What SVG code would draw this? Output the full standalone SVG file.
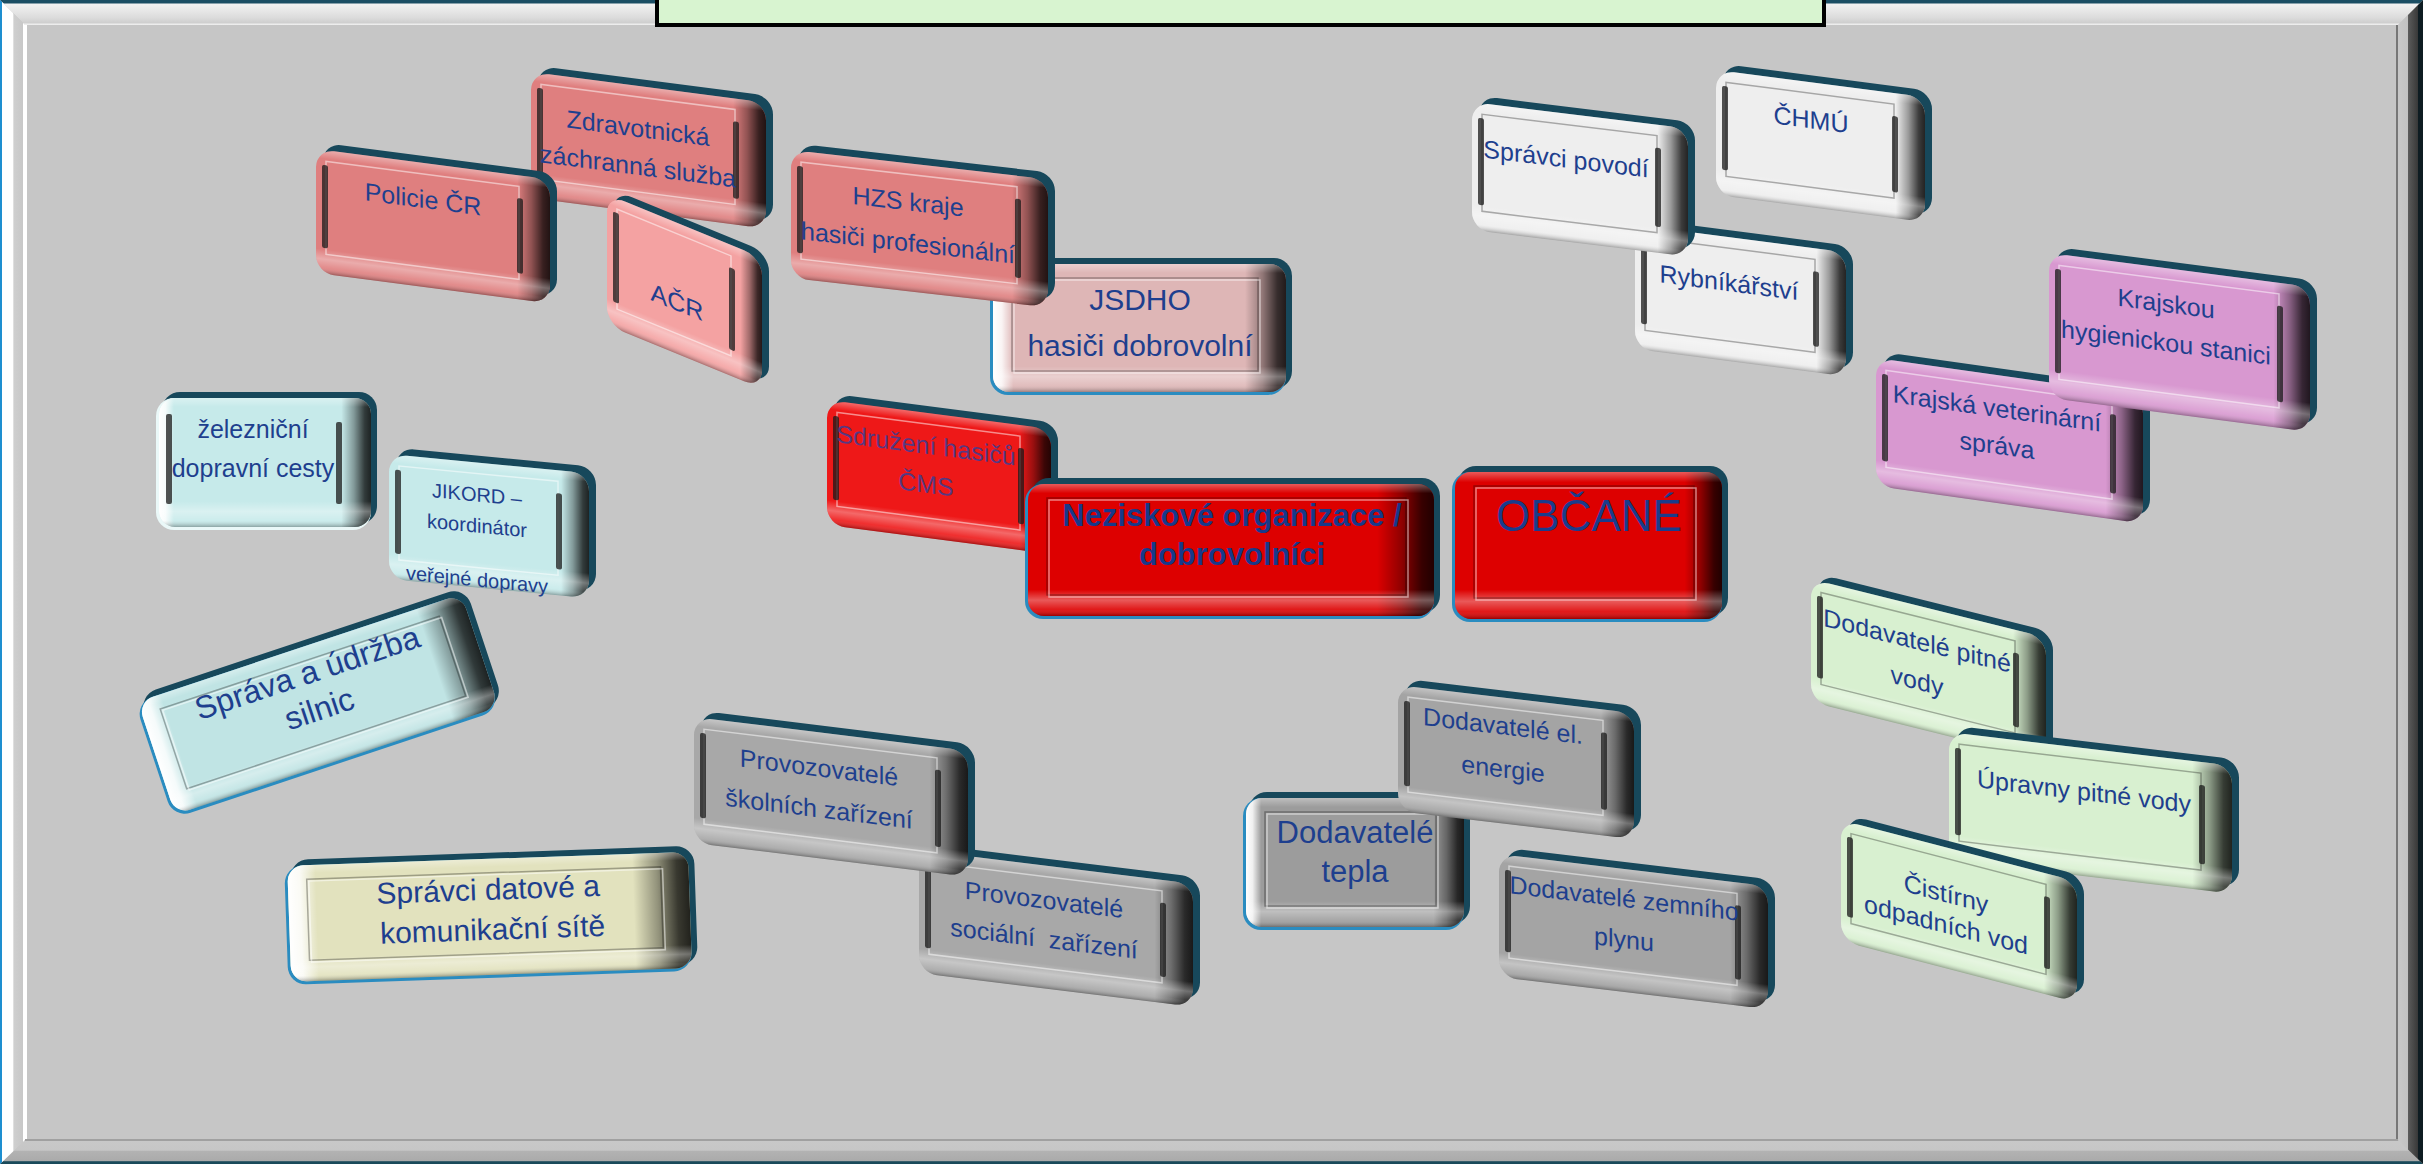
<svg xmlns="http://www.w3.org/2000/svg" width="2423" height="1164" viewBox="0 0 2423 1164">
<defs>
<linearGradient id="gSide" x1="0" y1="0" x2="1" y2="0">
<stop offset="0" stop-color="#000" stop-opacity="0"/>
<stop offset="0.86" stop-color="#000" stop-opacity="0"/>
<stop offset="0.92" stop-color="#000" stop-opacity="0.35"/>
<stop offset="0.97" stop-color="#000" stop-opacity="0.75"/>
<stop offset="1" stop-color="#000" stop-opacity="0.85"/>
</linearGradient>
<linearGradient id="gShade" x1="0" y1="0" x2="0" y2="1">
<stop offset="0" stop-color="#fff" stop-opacity="0.35"/>
<stop offset="0.07" stop-color="#fff" stop-opacity="0"/>
<stop offset="0.8" stop-color="#fff" stop-opacity="0"/>
<stop offset="0.88" stop-color="#fff" stop-opacity="0.35"/>
<stop offset="0.95" stop-color="#fff" stop-opacity="0.1"/>
<stop offset="1" stop-color="#000" stop-opacity="0.3"/>
</linearGradient>
<linearGradient id="gHL" x1="0" y1="0" x2="1" y2="0">
<stop offset="0" stop-color="#fff" stop-opacity="1"/>
<stop offset="0.03" stop-color="#fff" stop-opacity="0.85"/>
<stop offset="0.07" stop-color="#fff" stop-opacity="0"/>
</linearGradient>
<linearGradient id="gTop" gradientUnits="userSpaceOnUse" x1="0" y1="0" x2="0" y2="25">
<stop offset="0" stop-color="#1b4e64"/>
<stop offset="0.12" stop-color="#1b4e64"/>
<stop offset="0.16" stop-color="#f2f2f2"/>
<stop offset="0.7" stop-color="#dcdcdc"/>
<stop offset="0.9" stop-color="#cfcfcf"/>
<stop offset="1" stop-color="#f4f4f4"/>
</linearGradient>
<linearGradient id="gLeft" gradientUnits="userSpaceOnUse" x1="0" y1="0" x2="25" y2="0">
<stop offset="0" stop-color="#1e8fd0"/>
<stop offset="0.08" stop-color="#1e8fd0"/>
<stop offset="0.1" stop-color="#fff"/>
<stop offset="0.5" stop-color="#fff"/>
<stop offset="0.56" stop-color="#cfcfcf"/>
<stop offset="0.9" stop-color="#c8c8c8"/>
<stop offset="0.93" stop-color="#fff"/>
<stop offset="1" stop-color="#fff"/>
</linearGradient>
<linearGradient id="gRight" gradientUnits="userSpaceOnUse" x1="2398" y1="0" x2="2423" y2="0">
<stop offset="0" stop-color="#c8c8c8"/>
<stop offset="0.38" stop-color="#c2c2c2"/>
<stop offset="0.42" stop-color="#5a5a5a"/>
<stop offset="0.78" stop-color="#3a3a3a"/>
<stop offset="0.8" stop-color="#0e1c22"/>
<stop offset="1" stop-color="#0e1c22"/>
</linearGradient>
<linearGradient id="gBottom" gradientUnits="userSpaceOnUse" x1="0" y1="1140" x2="0" y2="1164">
<stop offset="0" stop-color="#9a9a9a"/>
<stop offset="0.06" stop-color="#c8c8c8"/>
<stop offset="0.42" stop-color="#c6c6c6"/>
<stop offset="0.48" stop-color="#b2b2b2"/>
<stop offset="0.88" stop-color="#aaaaaa"/>
<stop offset="0.9" stop-color="#1a4a5a"/>
<stop offset="1" stop-color="#1a4a5a"/>
</linearGradient>
</defs>
<style>
.rim{fill:#17485b}
.side{fill:url(#gSide)}
.shade{fill:url(#gShade)}
.hl{fill:url(#gHL)}
.blue{fill:#2a8cc0}
.inner{fill:none;stroke:#fff;stroke-opacity:.5;stroke-width:1.5}
.inner2{fill:none;stroke:#000;stroke-opacity:.3;stroke-width:1.5}
.bar{fill:#1a1a1a;fill-opacity:.75}
.lbl{font-family:"Liberation Sans",Arial,sans-serif;font-size:25px;fill:#1e3f8e;text-anchor:middle}
.f20{font-size:20px}
.f30{font-size:30px}
.f31{font-size:31px}
.f32{font-size:32px}
.f44{font-size:44px}
.b{font-weight:bold}
</style>

<g id="frame">
<rect x="0" y="0" width="2423" height="1164" fill="#c6c6c6"/>
<polygon points="0,0 2423,0 2398,25 25,25" fill="url(#gTop)"/>
<polygon points="0,1164 2423,1164 2398,1140 25,1140" fill="url(#gBottom)"/>
<polygon points="0,0 25,25 25,1140 0,1164" fill="url(#gLeft)"/>
<polygon points="2423,0 2423,1164 2398,1140 2398,25" fill="url(#gRight)"/>
<rect x="25" y="25" width="2373" height="1115" fill="#c6c6c6"/>
<line x1="26" y1="25" x2="26" y2="1140" stroke="#fff" stroke-width="2"/>
<line x1="2397" y1="25" x2="2397" y2="1140" stroke="#777" stroke-width="2"/>
<line x1="25" y1="1140" x2="2398" y2="1140" stroke="#a0a0a0" stroke-width="2"/>
</g>

<g id="title-box">
<rect x="657" y="-6" width="1167" height="31" fill="#d8f4d0" stroke="#000" stroke-width="4"/>
</g>

<g id="connectors"/>

<g id="n-zdrav" transform="translate(531 65) skewY(7.4)">
<rect class="rim" x="7" y="0" width="235" height="126" rx="18"/>
<rect x="0" y="7" width="235" height="126" rx="18" fill="#df7f7f"/>
<rect class="side" x="0" y="7" width="235" height="126" rx="18"/>
<rect class="shade" x="0" y="7" width="235" height="126" rx="18"/>
<rect class="inner" x="10" y="18" width="194" height="95"/>
<rect class="bar" x="6" y="22" width="6" height="85" rx="2"/>
<rect class="bar" x="202" y="30" width="6" height="77" rx="2"/>
<text class="lbl" x="107" y="58">Zdravotnická</text>
<text class="lbl" x="107" y="96">záchranná služba</text>
</g>

<g id="n-policie" transform="translate(316 142) skewY(7.4)">
<rect class="rim" x="7" y="0" width="234" height="124" rx="18"/>
<rect x="0" y="7" width="234" height="124" rx="18" fill="#df7f7f"/>
<rect class="side" x="0" y="7" width="234" height="124" rx="18"/>
<rect class="shade" x="0" y="7" width="234" height="124" rx="18"/>
<rect class="inner" x="10" y="18" width="193" height="93"/>
<rect class="bar" x="6" y="22" width="6" height="83" rx="2"/>
<rect class="bar" x="201" y="30" width="6" height="75" rx="2"/>
<text class="lbl" x="107" y="52">Policie ČR</text>
</g>

<g id="n-acr" transform="translate(607 187) skewY(22.3)">
<rect class="rim" x="7" y="0" width="155" height="131" rx="18"/>
<rect x="0" y="7" width="155" height="131" rx="18" fill="#f4a2a2"/>
<rect class="side" x="0" y="7" width="155" height="131" rx="18"/>
<rect class="shade" x="0" y="7" width="155" height="131" rx="18"/>
<rect class="inner" x="10" y="18" width="114" height="100"/>
<rect class="bar" x="6" y="22" width="6" height="90" rx="2"/>
<rect class="bar" x="122" y="30" width="6" height="82" rx="2"/>
<text class="lbl" x="70" y="95">AČR</text>
</g>

<g id="n-jsdho" transform="translate(990 258)">
<rect class="rim" x="6" y="0" width="296" height="131" rx="18"/>
<rect class="blue" x="0" y="6" width="296" height="131" rx="18"/>
<rect x="3" y="6" width="293" height="128" rx="16" fill="#deb6b6"/>
<rect class="hl" x="3" y="6" width="293" height="128" rx="16"/>
<rect class="side" x="3" y="6" width="293" height="128" rx="16"/>
<rect class="shade" x="3" y="6" width="293" height="128" rx="16"/>
<rect class="inner2" x="22" y="20" width="246" height="93"/>
<rect class="inner" x="24" y="22" width="246" height="93"/>
<text class="lbl f30" x="150" y="52">JSDHO</text>
<text class="lbl f30" x="150" y="98">hasiči dobrovolní</text>
</g>

<g id="n-hzs" transform="translate(791 143) skewY(6.5)">
<rect class="rim" x="7" y="0" width="257" height="128" rx="18"/>
<rect x="0" y="7" width="257" height="128" rx="18" fill="#df7f7f"/>
<rect class="side" x="0" y="7" width="257" height="128" rx="18"/>
<rect class="shade" x="0" y="7" width="257" height="128" rx="18"/>
<rect class="inner" x="10" y="18" width="216" height="97"/>
<rect class="bar" x="6" y="22" width="6" height="87" rx="2"/>
<rect class="bar" x="224" y="30" width="6" height="79" rx="2"/>
<text class="lbl" x="117" y="54">HZS kraje</text>
<text class="lbl" x="117" y="95">hasiči profesionální</text>
</g>

<g id="n-sdruzeni" transform="translate(827 393) skewY(7.4)">
<rect class="rim" x="7" y="0" width="224" height="125" rx="18"/>
<rect x="0" y="7" width="224" height="125" rx="18" fill="#ee1818"/>
<rect class="side" x="0" y="7" width="224" height="125" rx="18"/>
<rect class="shade" x="0" y="7" width="224" height="125" rx="18"/>
<rect class="inner" x="10" y="18" width="183" height="94"/>
<rect class="bar" x="6" y="22" width="6" height="84" rx="2"/>
<rect class="bar" x="191" y="30" width="6" height="76" rx="2"/>
<text class="lbl" x="99" y="48" fill-opacity="0.85" style="fill:#3a3f95">Sdružení hasičů</text>
<text class="lbl" x="99" y="87" fill-opacity="0.85" style="fill:#3a3f95">ČMS</text>
</g>

<g id="n-nezisk" transform="translate(1025 478)">
<rect class="rim" x="6" y="0" width="409" height="135" rx="18"/>
<rect class="blue" x="0" y="6" width="409" height="135" rx="18"/>
<rect x="3" y="6" width="406" height="132" rx="16" fill="#dd0000"/>
<rect class="side" x="3" y="6" width="406" height="132" rx="16"/>
<rect class="shade" x="3" y="6" width="406" height="132" rx="16"/>
<rect class="inner2" x="22" y="20" width="359" height="97"/>
<rect class="inner" x="24" y="22" width="359" height="97"/>
<text class="lbl f31 b" x="207" y="48" style="fill:#17398a">Neziskové organizace /</text>
<text class="lbl f31 b" x="207" y="87" style="fill:#17398a">dobrovolníci</text>
</g>

<g id="n-obcane" transform="translate(1452 466)">
<rect class="rim" x="6" y="0" width="270" height="150" rx="18"/>
<rect class="blue" x="0" y="6" width="270" height="150" rx="18"/>
<rect x="3" y="6" width="267" height="147" rx="16" fill="#dd0000"/>
<rect class="side" x="3" y="6" width="267" height="147" rx="16"/>
<rect class="shade" x="3" y="6" width="267" height="147" rx="16"/>
<rect class="inner2" x="22" y="20" width="220" height="112"/>
<rect class="inner" x="24" y="22" width="220" height="112"/>
<text class="lbl f44" x="137" y="65" style="fill:#1a3c8c">OBČANÉ</text>
</g>

<g id="n-rybnik" transform="translate(1635 218) skewY(7.4)">
<rect class="rim" x="7" y="0" width="211" height="124" rx="18"/>
<rect x="0" y="7" width="211" height="124" rx="18" fill="#eeeeee"/>
<rect class="side" x="0" y="7" width="211" height="124" rx="18"/>
<rect class="shade" x="0" y="7" width="211" height="124" rx="18"/>
<rect class="inner2" x="10" y="18" width="170" height="93"/>
<rect class="bar" x="6" y="22" width="6" height="83" rx="2"/>
<rect class="bar" x="178" y="30" width="6" height="75" rx="2"/>
<text class="lbl" x="94" y="61">Rybníkářství</text>
</g>

<g id="n-povodi" transform="translate(1472 95) skewY(7)">
<rect class="rim" x="7" y="0" width="216" height="128" rx="18"/>
<rect x="0" y="7" width="216" height="128" rx="18" fill="#eeeeee"/>
<rect class="side" x="0" y="7" width="216" height="128" rx="18"/>
<rect class="shade" x="0" y="7" width="216" height="128" rx="18"/>
<rect class="inner2" x="10" y="18" width="175" height="97"/>
<rect class="bar" x="6" y="22" width="6" height="87" rx="2"/>
<rect class="bar" x="183" y="30" width="6" height="79" rx="2"/>
<text class="lbl" x="94" y="61">Správci povodí</text>
</g>

<g id="n-chmu" transform="translate(1716 63) skewY(7.4)">
<rect class="rim" x="7" y="0" width="209" height="125" rx="18"/>
<rect x="0" y="7" width="209" height="125" rx="18" fill="#eeeeee"/>
<rect class="side" x="0" y="7" width="209" height="125" rx="18"/>
<rect class="shade" x="0" y="7" width="209" height="125" rx="18"/>
<rect class="inner2" x="10" y="18" width="168" height="94"/>
<rect class="bar" x="6" y="22" width="6" height="84" rx="2"/>
<rect class="bar" x="176" y="30" width="6" height="76" rx="2"/>
<text class="lbl" x="95" y="53">ČHMÚ</text>
</g>

<g id="n-kvs" transform="translate(1876 351) skewY(8)">
<rect class="rim" x="7" y="0" width="267" height="128" rx="18"/>
<rect x="0" y="7" width="267" height="128" rx="18" fill="#d898d0"/>
<rect class="side" x="0" y="7" width="267" height="128" rx="18"/>
<rect class="shade" x="0" y="7" width="267" height="128" rx="18"/>
<rect class="inner" x="10" y="18" width="226" height="97"/>
<rect class="bar" x="6" y="22" width="6" height="87" rx="2"/>
<rect class="bar" x="234" y="30" width="6" height="79" rx="2"/>
<text class="lbl" x="121" y="49">Krajská veterinární</text>
<text class="lbl" x="121" y="86">správa</text>
</g>

<g id="n-khs" transform="translate(2049 246) skewY(7.4)">
<rect class="rim" x="7" y="0" width="261" height="145" rx="18"/>
<rect x="0" y="7" width="261" height="145" rx="18" fill="#d898d0"/>
<rect class="side" x="0" y="7" width="261" height="145" rx="18"/>
<rect class="shade" x="0" y="7" width="261" height="145" rx="18"/>
<rect class="inner" x="10" y="18" width="220" height="114"/>
<rect class="bar" x="6" y="22" width="6" height="104" rx="2"/>
<rect class="bar" x="228" y="30" width="6" height="96" rx="2"/>
<text class="lbl" x="117" y="51">Krajskou</text>
<text class="lbl" x="117" y="90">hygienickou stanici</text>
</g>

<g id="n-zeleznice" transform="translate(156 392)">
<rect class="rim" x="6" y="0" width="215" height="132" rx="18"/>
<rect x="0" y="6" width="215" height="132" rx="18" fill="#eaf8f8"/>
<rect x="3" y="6" width="212" height="129" rx="16" fill="#c6eaea"/>
<rect class="hl" x="3" y="6" width="212" height="129" rx="16"/>
<rect class="side" x="3" y="6" width="212" height="129" rx="16"/>
<rect class="shade" x="3" y="6" width="212" height="129" rx="16"/>
<rect class="bar" x="10" y="22" width="6" height="90" rx="2"/>
<rect class="bar" x="180" y="30" width="6" height="82" rx="2"/>
<text class="lbl" x="97" y="46">železniční</text>
<text class="lbl" x="97" y="85">dopravní cesty</text>
</g>

<g id="n-jikord" transform="translate(389 447) skewY(5.5)">
<rect class="rim" x="7" y="0" width="200" height="125" rx="18"/>
<rect x="0" y="7" width="200" height="125" rx="18" fill="#c6eaea"/>
<rect class="side" x="0" y="7" width="200" height="125" rx="18"/>
<rect class="shade" x="0" y="7" width="200" height="125" rx="18"/>
<rect class="inner" x="10" y="18" width="159" height="94"/>
<rect class="bar" x="6" y="22" width="6" height="84" rx="2"/>
<rect class="bar" x="167" y="30" width="6" height="76" rx="2"/>
<text class="lbl f20" x="88" y="46">JIKORD –</text>
<text class="lbl f20" x="88" y="77">koordinátor</text>
<text class="lbl f20" x="88" y="131">veřejné dopravy</text>
</g>

<g id="n-silnice" transform="translate(133 697) rotate(-18.4)">
<rect class="rim" x="6" y="0" width="344" height="122" rx="18"/>
<rect class="blue" x="0" y="6" width="344" height="122" rx="18"/>
<rect x="3" y="6" width="341" height="119" rx="16" fill="#c0e4e4"/>
<rect class="hl" x="3" y="6" width="341" height="119" rx="16"/>
<rect class="side" x="3" y="6" width="341" height="119" rx="16"/>
<rect class="shade" x="3" y="6" width="341" height="119" rx="16"/>
<rect class="inner2" x="22" y="20" width="294" height="84"/>
<rect class="inner" x="24" y="22" width="294" height="84"/>
<text class="lbl f32" x="173" y="43">Správa a údržba</text>
<text class="lbl f32" x="173" y="81">silnic</text>
</g>

<g id="n-datove" transform="translate(284 860) rotate(-2)">
<rect class="rim" x="6" y="0" width="404" height="119" rx="18"/>
<rect class="blue" x="0" y="6" width="404" height="119" rx="18"/>
<rect x="3" y="6" width="401" height="116" rx="16" fill="#e2e2be"/>
<rect class="hl" x="3" y="6" width="401" height="116" rx="16"/>
<rect class="side" x="3" y="6" width="401" height="116" rx="16"/>
<rect class="shade" x="3" y="6" width="401" height="116" rx="16"/>
<rect class="inner2" x="22" y="20" width="354" height="81"/>
<rect class="inner" x="24" y="22" width="354" height="81"/>
<text class="lbl f30" x="203" y="47">Správci datové a</text>
<text class="lbl f30" x="206" y="87">komunikační sítě</text>
</g>

<g id="n-socialni" transform="translate(919 843) skewY(7)">
<rect class="rim" x="7" y="0" width="274" height="123" rx="18"/>
<rect x="0" y="7" width="274" height="123" rx="18" fill="#a8a8a8"/>
<rect class="side" x="0" y="7" width="274" height="123" rx="18"/>
<rect class="shade" x="0" y="7" width="274" height="123" rx="18"/>
<rect class="inner" x="10" y="18" width="233" height="92"/>
<rect class="bar" x="6" y="22" width="6" height="82" rx="2"/>
<rect class="bar" x="241" y="30" width="6" height="74" rx="2"/>
<text class="lbl" x="125" y="50">Provozovatelé</text>
<text class="lbl" x="125" y="89" xml:space="preserve">sociální  zařízení</text>
</g>

<g id="n-skolni" transform="translate(694 710) skewY(7)">
<rect class="rim" x="7" y="0" width="274" height="126" rx="18"/>
<rect x="0" y="7" width="274" height="126" rx="18" fill="#a8a8a8"/>
<rect class="side" x="0" y="7" width="274" height="126" rx="18"/>
<rect class="shade" x="0" y="7" width="274" height="126" rx="18"/>
<rect class="inner" x="10" y="18" width="233" height="95"/>
<rect class="bar" x="6" y="22" width="6" height="85" rx="2"/>
<rect class="bar" x="241" y="30" width="6" height="77" rx="2"/>
<text class="lbl" x="125" y="51">Provozovatelé</text>
<text class="lbl" x="125" y="92">školních zařízení</text>
</g>

<g id="n-teplo" transform="translate(1243 792)">
<rect class="rim" x="6" y="0" width="221" height="132" rx="18"/>
<rect class="blue" x="0" y="6" width="221" height="132" rx="18"/>
<rect x="3" y="6" width="218" height="129" rx="16" fill="#9c9c9c"/>
<rect class="hl" x="3" y="6" width="218" height="129" rx="16"/>
<rect class="side" x="3" y="6" width="218" height="129" rx="16"/>
<rect class="shade" x="3" y="6" width="218" height="129" rx="16"/>
<rect class="inner2" x="22" y="20" width="171" height="94"/>
<rect class="inner" x="24" y="22" width="171" height="94"/>
<text class="lbl f31" x="112" y="51">Dodavatelé</text>
<text class="lbl f31" x="112" y="90">tepla</text>
</g>

<g id="n-elektro" transform="translate(1398 678) skewY(6.8)">
<rect class="rim" x="7" y="0" width="236" height="126" rx="18"/>
<rect x="0" y="7" width="236" height="126" rx="18" fill="#a4a4a4"/>
<rect class="side" x="0" y="7" width="236" height="126" rx="18"/>
<rect class="shade" x="0" y="7" width="236" height="126" rx="18"/>
<rect class="inner" x="10" y="18" width="195" height="95"/>
<rect class="bar" x="6" y="22" width="6" height="85" rx="2"/>
<rect class="bar" x="203" y="30" width="6" height="77" rx="2"/>
<text class="lbl" x="105" y="44">Dodavatelé el.</text>
<text class="lbl" x="105" y="87">energie</text>
</g>

<g id="n-plyn" transform="translate(1499 847) skewY(6.8)">
<rect class="rim" x="7" y="0" width="269" height="123" rx="18"/>
<rect x="0" y="7" width="269" height="123" rx="18" fill="#a4a4a4"/>
<rect class="side" x="0" y="7" width="269" height="123" rx="18"/>
<rect class="shade" x="0" y="7" width="269" height="123" rx="18"/>
<rect class="inner" x="10" y="18" width="228" height="92"/>
<rect class="bar" x="6" y="22" width="6" height="82" rx="2"/>
<rect class="bar" x="236" y="30" width="6" height="74" rx="2"/>
<text class="lbl" x="125" y="45">Dodavatelé zemního</text>
<text class="lbl" x="125" y="86">plynu</text>
</g>

<g id="n-pitna" transform="translate(1811 572) skewY(14)">
<rect class="rim" x="7" y="0" width="235" height="123" rx="18"/>
<rect x="0" y="7" width="235" height="123" rx="18" fill="#d8f0d0"/>
<rect class="side" x="0" y="7" width="235" height="123" rx="18"/>
<rect class="shade" x="0" y="7" width="235" height="123" rx="18"/>
<rect class="inner2" x="10" y="18" width="194" height="92"/>
<rect class="bar" x="6" y="22" width="6" height="82" rx="2"/>
<rect class="bar" x="202" y="30" width="6" height="74" rx="2"/>
<text class="lbl" x="106" y="51">Dodavatelé pitné</text>
<text class="lbl" x="106" y="91">vody</text>
</g>

<g id="n-upravny" transform="translate(1949 725) skewY(6.8)">
<rect class="rim" x="7" y="0" width="283" height="128" rx="18"/>
<rect x="0" y="7" width="283" height="128" rx="18" fill="#d8f0d0"/>
<rect class="side" x="0" y="7" width="283" height="128" rx="18"/>
<rect class="shade" x="0" y="7" width="283" height="128" rx="18"/>
<rect class="inner2" x="10" y="18" width="242" height="97"/>
<rect class="bar" x="6" y="22" width="6" height="87" rx="2"/>
<rect class="bar" x="250" y="30" width="6" height="79" rx="2"/>
<text class="lbl" x="135" y="59">Úpravny pitné vody</text>
</g>

<g id="n-cistirny" transform="translate(1841 813) skewY(14.6)">
<rect class="rim" x="7" y="0" width="236" height="121" rx="18"/>
<rect x="0" y="7" width="236" height="121" rx="18" fill="#d8f0d0"/>
<rect class="side" x="0" y="7" width="236" height="121" rx="18"/>
<rect class="shade" x="0" y="7" width="236" height="121" rx="18"/>
<rect class="inner2" x="10" y="18" width="195" height="90"/>
<rect class="bar" x="6" y="22" width="6" height="80" rx="2"/>
<rect class="bar" x="203" y="30" width="6" height="72" rx="2"/>
<text class="lbl" x="105" y="62">Čistírny</text>
<text class="lbl" x="105" y="93">odpadních vod</text>
</g>
</svg>
